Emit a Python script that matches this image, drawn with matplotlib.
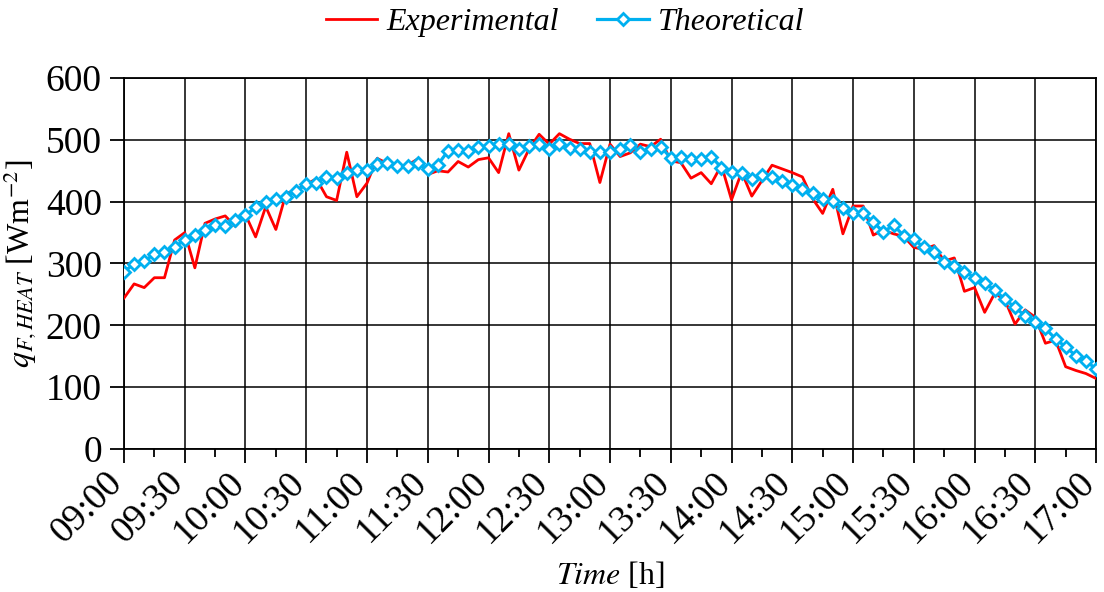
import matplotlib
matplotlib.use('Agg')
from matplotlib import pyplot as plt
from matplotlib.ticker import MultipleLocator
import numpy as np

plt.rcParams['font.family'] = ['Liberation Serif', 'DejaVu Serif']
plt.rcParams['mathtext.fontset'] = 'stix'

# Minutes after 09:00, one reading every 5 minutes
minutes = np.arange(0, 481, 5)

experimental = [244, 267, 261, 277, 277, 338, 350, 293, 365, 372,
                377, 360, 379, 343, 392, 355, 413, 419, 428, 437,
                408, 402, 480, 408, 430, 470, 462, 452, 459, 469,
                444, 450, 448, 465, 456, 468, 471, 447, 510, 451,
                485, 509, 493, 510, 501, 494, 494, 431, 493, 473,
                479, 493, 489, 501, 466, 463, 438, 447, 429, 459,
                403, 448, 409, 434, 459, 453, 447, 440, 405, 381,
                420, 348, 393, 393, 346, 354, 348, 344, 326, 323,
                329, 304, 309, 255, 261, 221, 252, 241, 202, 225,
                213, 171, 176, 133, 127, 122, 114]

theoretical = [287, 299, 304, 315, 319, 327, 338, 346, 354, 363,
               361, 370, 378, 391, 400, 404, 408, 417, 428, 431,
               440, 438, 447, 451, 451, 461, 463, 458, 458, 462,
               453, 460, 482, 483, 482, 489, 490, 493, 493, 486,
               490, 493, 485, 494, 487, 485, 480, 480, 480, 485,
               492, 481, 485, 489, 471, 473, 469, 469, 473, 455,
               448, 446, 437, 443, 440, 433, 427, 420, 414, 404,
               401, 389, 381, 381, 367, 351, 362, 345, 339, 326,
               318, 302, 296, 287, 277, 268, 257, 242, 229, 215,
               206, 195, 178, 165, 151, 143, 129]

tick_labels = ['09:00', '09:30', '10:00', '10:30', '11:00', '11:30',
               '12:00', '12:30', '13:00', '13:30', '14:00', '14:30',
               '15:00', '15:30', '16:00', '16:30', '17:00']

fig = plt.figure(figsize=(11.04, 5.92), dpi=100)
ax = fig.add_axes([0.1123, 0.2416, 0.8805, 0.6266])

ax.plot(minutes, experimental, color='#FF0000', lw=2.0, label='Experimental', zorder=3)
ax.plot(minutes, theoretical, color='#00B0F0', lw=2.3, marker='D', ms=6,
        mfc='white', mec='#00B0F0', mew=2, label='Theoretical', zorder=4)

ax.set_xlim(0, 480)
ax.set_ylim(0, 600)
ax.set_xticks(np.arange(0, 481, 30))
ax.set_xticklabels(tick_labels, rotation=45, ha='right', va='baseline',
                   rotation_mode='anchor')
ax.xaxis.set_minor_locator(MultipleLocator(15))
ax.set_yticks(np.arange(0, 601, 100))

ax.tick_params(axis='both', which='major', direction='out', length=10, width=1.3,
               labelsize=27, pad=6, color='black')
ax.tick_params(axis='x', which='minor', direction='out', length=6, width=1.3)
ax.tick_params(axis='x', which='major', pad=15)

ax.grid(True, which='major', color='black', lw=1.1)
ax.set_axisbelow(True)
for s in ax.spines.values():
    s.set_color('black')
    s.set_linewidth(1.3)

ax.set_ylabel(r'$q_{F,HEAT}$ [Wm$^{-2}$]', fontsize=23, labelpad=5)
ax.set_xlabel(r'$\mathit{Time}$ [h]', fontsize=23)
ax.xaxis.set_label_coords(0.5, -0.30)

ax.legend(loc='lower center', bbox_to_anchor=(0.454, 1.075), ncol=2, frameon=False,
          prop={'style': 'italic', 'size': 23}, handlelength=1.6,
          handletextpad=0.3, columnspacing=1.2, borderaxespad=0)

fig.savefig('out.png', dpi=100)
